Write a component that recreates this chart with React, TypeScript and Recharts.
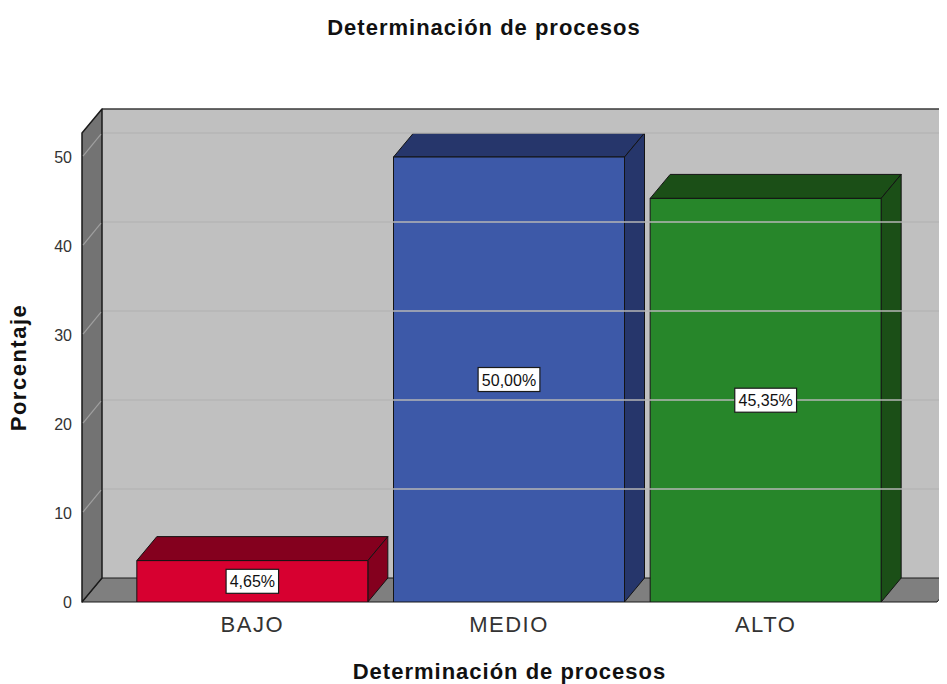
import React from 'react';
import {
  BarChart,
  Bar,
  XAxis,
  YAxis,
  ReferenceArea,
  ReferenceLine,
  LabelList,
  Label,
  Cell,
} from 'recharts';

// Category names and percentage per category
const categories = ['BAJO', 'MEDIO', 'ALTO'];
const percentages = [4.65, 50.0, 45.35];
const yTicks = [0, 10, 20, 30, 40, 50];
const yMax = 52.7;

// Front face colour and shaded (top / side) colour per bar
const frontColors = ['#d70030', '#3d59a8', '#27862a'];
const shadeColors = ['#84001e', '#26366b', '#1b4f17'];

const data = categories.map((name, i) => ({ name, value: percentages[i] }));

// Depth of the pseudo-3D extrusion
const DX = 20;
const DY = -24;
// Empty space between the walls and the outer bars
const PAD_L = 42;
const PAD_R = 43;
const FONT = '"Liberation Sans", Arial, sans-serif';

const fmt = (v: number) => v.toFixed(2).replace('.', ',') + '%';

// Left wall, floor and back wall around the plot area
const Walls = (props: any) => {
  const { x: ax, y, width, height } = props;
  const x = ax - PAD_L;
  const r = ax + width + PAD_R;
  const b = y + height;
  return (
    <g>
      <polygon
        points={`${x + DX},${y + DY} ${r + DX + 30},${y + DY} ${r + DX + 30},${b + DY} ${x + DX},${b + DY}`}
        fill="#c0c0c0"
        stroke="none"
      />
      <line x1={x + DX} y1={y + DY} x2={r + DX + 30} y2={y + DY} stroke="#3a3a3a" strokeWidth={1.5} />
      <polygon
        points={`${x},${b} ${x + DX},${b + DY} ${r + DX},${b + DY} ${r},${b}`}
        fill="#7f7f7f"
        stroke="#1a1a1a"
        strokeWidth={1}
        strokeLinejoin="round"
      />
      <polygon
        points={`${x},${y} ${x + DX},${y + DY} ${x + DX},${b + DY} ${x},${b}`}
        fill="#737373"
        stroke="#1a1a1a"
        strokeWidth={1.5}
        strokeLinejoin="round"
      />
    </g>
  );
};

// Gridline: diagonal across the left wall, then along the back wall
const GridLine = (props: any) => {
  const { x1, y1, x2 } = props;
  return (
    <g>
      <line x1={x1 + 1} y1={y1 - 1} x2={x1 + DX - 1} y2={y1 + DY + 1} stroke="#a0a0a0" strokeWidth={1.2} />
      <line x1={x1 + DX + 1} y1={y1 + DY} x2={x2 + DX + 30} y2={y1 + DY} stroke="#b6b6b6" strokeWidth={1.5} />
    </g>
  );
};

// Extruded bar: front face, top and right side
const Box = (props: any) => {
  const { x, y, width, height, index } = props;
  const front = frontColors[index];
  const shade = shadeColors[index];
  const r = x + width;
  const b = y + height;
  const stroke = '#141414';
  return (
    <g strokeLinejoin="round">
      <polygon
        points={`${x},${y} ${x + DX},${y + DY} ${r + DX},${y + DY} ${r},${y}`}
        fill={shade}
        stroke={stroke}
        strokeWidth={1}
      />
      <polygon
        points={`${r},${y} ${r + DX},${y + DY} ${r + DX},${b + DY} ${r},${b}`}
        fill={shade}
        stroke={stroke}
        strokeWidth={1}
      />
      <rect x={x} y={y} width={width} height={height} fill={front} stroke={stroke} strokeWidth={1} />
    </g>
  );
};

// Boxed percentage label centred on the front face
const ValueTag = (props: any) => {
  const { x, y, width, height, value } = props;
  const cx = x + width / 2;
  const cy = y + height / 2;
  const text = fmt(value);
  const w = text.length * 9.3 + 6;
  const h = 24;
  return (
    <g>
      <rect x={cx - w / 2} y={cy - h / 2} width={w} height={h} fill="#ffffff" stroke="#1a1a1a" strokeWidth={1.2} />
      <text x={cx} y={cy + 6} textAnchor="middle" fontFamily={FONT} fontSize={16} fill="#111">
        {text}
      </text>
    </g>
  );
};

export default function App() {
  return (
    <div style={{ position: 'relative', width: 947, height: 684, marginTop: -8, marginLeft: -8, background: '#fff' }}>
      <div
        style={{
          position: 'absolute',
          top: 17,
          left: 0,
          width: 968,
          textAlign: 'center',
          fontFamily: FONT,
          fontWeight: 'bold',
          fontSize: 22,
          lineHeight: '22px',
          letterSpacing: 1,
          color: '#111',
        }}
      >
        Determinación de procesos
      </div>
      <BarChart
        width={947}
        height={684}
        data={data}
        margin={{ top: 133, right: 10, bottom: 32, left: 22 }}
        barCategoryGap="5%"
      >
        <ReferenceArea y1={0} y2={yMax} ifOverflow="visible" shape={(p: any) => <Walls {...p} />} />
        {yTicks
          .filter((t) => t > 0)
          .map((t) => (
            <ReferenceLine key={t} y={t} ifOverflow="visible" shape={(p: any) => <GridLine {...p} />} />
          ))}
        <XAxis
          dataKey="name"
          height={50}
          padding={{ left: PAD_L, right: PAD_R }}
          axisLine={false}
          tickLine={false}
          tickMargin={8}
          tick={{ fontFamily: FONT, fontSize: 22, fill: '#333', letterSpacing: 1.5 }}
        >
          <Label
            value="Determinación de procesos"
            position="insideBottom"
            offset={-27}
            style={{ fontFamily: FONT, fontWeight: 'bold', fontSize: 22, fill: '#111', letterSpacing: 1 }}
          />
        </XAxis>
        <YAxis
          width={60}
          domain={[0, yMax]}
          ticks={yTicks}
          allowDataOverflow
          axisLine={false}
          tickLine={false}
          tickMargin={4}
          tick={{ fontFamily: FONT, fontSize: 16, fill: '#333' }}
        >
          <Label
            value="Porcentaje"
            angle={-90}
            position="insideLeft"
            offset={-4}
            style={{ fontFamily: FONT, fontWeight: 'bold', fontSize: 22, fill: '#111', textAnchor: 'middle', letterSpacing: 1.5 }}
          />
        </YAxis>
        <Bar dataKey="value" isAnimationActive={false} shape={(p: any) => <Box {...p} />}>
          {data.map((d, i) => (
            <Cell key={d.name} fill={frontColors[i]} />
          ))}
          <LabelList dataKey="value" content={(p: any) => <ValueTag {...p} />} />
        </Bar>
      </BarChart>
    </div>
  );
}
